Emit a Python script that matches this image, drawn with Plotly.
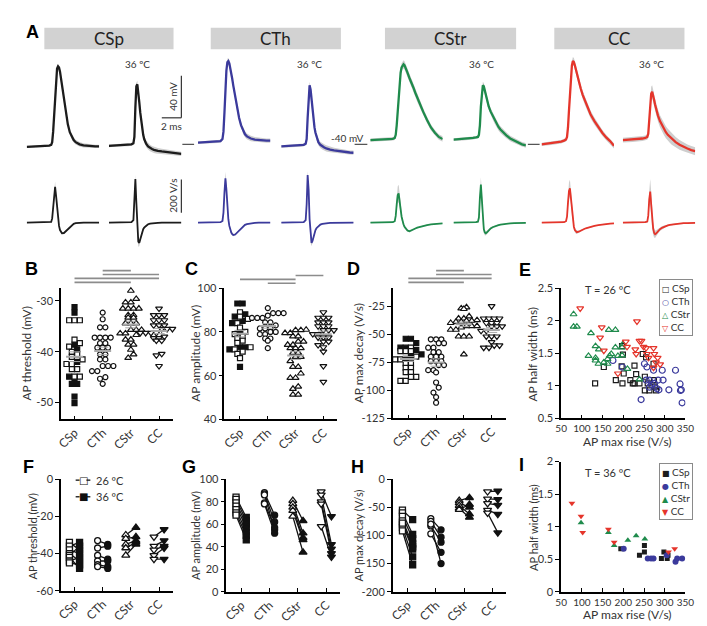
import statistics
import plotly.graph_objects as go

W, H = 707, 626
def fx(p): return p / W
def fy(p): return 1 - p / H

# ------------------------------------------------------------------ data
GROUPS = ["CSp", "CTh", "CStr", "CC"]
COLORS = {"CSp": "#1c1c1c", "CTh": "#3b3a9c", "CStr": "#1f8b4c", "CC": "#e5352b"}

# Panel A: mean AP waveforms (mV) and their derivatives (V/s), time in ms
T_MS = [0, 1, 2, 2.3, 2.5, 2.6, 2.7, 2.8, 2.9, 3.0, 3.1, 3.2, 3.3, 3.4, 3.5, 3.6, 3.8,
        4.0, 4.2, 4.4, 4.6, 4.8, 5.0, 5.4, 5.8, 6.2, 6.6, 7.0, 7.4]
V_CSP_26 = [-42.5, -42, -41.5, -41.2, -40.5, -38, -28, -10, 8, 24, 32, 34, 33, 29, 23, 16, 2,
            -11, -21, -28.5, -33, -36, -38, -40, -41, -41.5, -41.8, -42, -42]
V_CSP_36 = [-41.5, -41, -40.5, -40, -39, -33, -5, 15, 17, 10, 0, -10, -19, -26, -31, -35, -39.5,
            -42, -43.5, -44.5, -45.2, -45.8, -46.2, -46.8, -47.3, -47.8, -48.3, -48.7, -49]
V_CTH_26 = [-38.5, -38, -37.5, -37, -35, -28, -10, 12, 30, 38, 39, 37, 33, 28, 22, 16, 5,
            -6, -15, -22, -27, -30.5, -32.5, -34.5, -35.5, -36, -36.3, -36.5, -36.5]
V_CTH_36 = [-42, -41.5, -41, -40.5, -39.5, -35, -15, 8, 16, 12, 2, -8, -17, -24, -29, -33, -38,
            -40.5, -42, -43, -43.8, -44.5, -45, -45.8, -46.4, -47, -47.4, -47.8, -48]
V_CSTR_26 = [-36, -35.5, -35, -34.8, -34, -31, -22, -8, 6, 19, 28, 33, 35.5, 36, 35, 33, 28,
             23, 19, 14, 9, 4, -1, -9, -17, -24, -29, -33, -35]
V_CSTR_36 = [-35.5, -35, -34, -33.5, -33, -31, -22, -4, 10, 16, 15, 11, 7, 3, -1, -4, -9,
             -13, -17, -20.5, -23.5, -26, -28, -31.5, -34.5, -36.5, -38.5, -40, -41]
V_CC_26 = [-40, -39, -37.5, -36.5, -35.5, -33, -24, -8, 10, 26, 35, 39, 38, 35, 31, 27, 20,
           13, 7, 2, -3, -7.5, -11.5, -18, -24, -29, -33.5, -37, -41.5]
V_CC_36 = [-36, -35.5, -34.5, -34, -33, -30, -19, -3, 8, 10, 7, 2, -2.5, -6.5, -10, -13, -18,
           -22, -25.5, -28.5, -31, -33, -35, -38, -40.5, -42.5, -44, -45.5, -46.5]

D_CSP_26 = [0, 0, 0.5, 1, 4, 25, 100, 190, 215, 160, 80, 20, -20, -45, -58, -64, -63,
            -52, -38, -25, -15, -8, -4, -1, 0, 0, 0, 0, 0]
D_CSP_36 = [0, 0, 0.5, 2, 15, 150, 262, 120, -40, -115, -122, -100, -75, -55, -40, -30, -17,
            -10, -6, -4, -3, -2, -1.5, -1, -0.5, -0.5, 0, 0, 0]
D_CTH_26 = [0, 0, 0.5, 2, 10, 60, 180, 265, 200, 90, 20, -20, -45, -60, -70, -75, -72,
            -60, -45, -32, -22, -14, -9, -4, -2, -1, 0, 0, 0]
D_CTH_36 = [0, 0, 0.5, 2, 15, 110, 285, 200, 20, -90, -122, -110, -85, -62, -45, -34, -20,
            -12, -8, -5, -4, -3, -2, -1.5, -1, -0.5, 0, 0, 0]
D_CSTR_26 = [0, 0, 1, 2, 8, 40, 110, 165, 175, 140, 80, 35, 5, -12, -25, -35, -48,
             -52, -48, -42, -36, -31, -27, -20, -15, -11, -8, -6, -5]
D_CSTR_36 = [0, 0, 1, 2, 5, 30, 150, 228, 140, 20, -40, -60, -65, -60, -52, -45, -35,
             -28, -22, -18, -15, -12, -10, -7, -5, -4, -3, -2, -2]
D_CC_26 = [0, 0.5, 1, 2, 8, 35, 120, 190, 205, 150, 70, 10, -25, -45, -55, -58, -55,
           -48, -42, -37, -33, -29, -26, -20, -15, -11, -8, -6, -5]
D_CC_36 = [0, 0, 1, 2, 6, 40, 140, 186, 110, 20, -35, -62, -70, -66, -58, -50, -40,
           -32, -26, -21, -17, -14, -12, -8, -6, -4, -3, -2, -2]

SEM_V = [1.2, 1.2, 1.3, 1.3, 1.4, 2.0, 3.0, 3.5, 3.5, 3.2, 3.0, 3.0, 3.0, 3.0, 3.0, 3.0, 3.0,
         3.0, 3.0, 3.0, 3.0, 2.9, 2.8, 2.6, 2.4, 2.2, 2.0, 2.0, 2.0]
SEM_DV = [2, 2, 2, 2, 3, 10, 25, 40, 40, 30, 20, 15, 12, 10, 8, 8, 6,
          5, 4, 3, 3, 2, 2, 2, 2, 2, 2, 2, 2]
SEM_SCALE = {"CSp26": 0.8, "CSp36": 1.0, "CTh26": 1.0, "CTh36": 1.0,
             "CStr26": 1.3, "CStr36": 1.1, "CC26": 1.3, "CC36": 1.9}

# Panel B: AP threshold (mV)
B_CSP_FILLED = [-31.2, -32.3, -38.6, -39.5, -42.0, -44.9, -45.5, -46.3, -46.3, -48.8, -50.1]
B_CSP_OPEN = [-33.8, -33.8, -33.8, -37.6, -38.3, -39.0, -40.0, -40.5, -41.0, -41.5, -42.4,
              -42.4, -43.4, -43.4, -44.9, -44.9]
B_CTH = [-32.3, -33.6, -35.2, -35.2, -37.2, -37.2, -37.2, -37.2, -38.3, -38.3, -39.2, -39.2,
         -39.2, -40.5, -40.5, -41.5, -41.5, -42.8, -42.8, -42.8, -43.8, -43.8, -45.0, -45.3, -46.3]
B_CSTR = [-28.0, -29.6, -30.3, -30.3, -31.5, -31.5, -31.5, -31.5, -32.8, -32.8, -33.3, -33.3,
          -34.4, -34.4, -34.4, -35.7, -35.7, -35.7, -36.4, -36.4, -36.7, -37.6, -37.6, -38.6,
          -38.6, -39.6, -40.5, -41.2]
B_CC = [-31.5, -32.8, -32.8, -32.8, -33.8, -33.8, -33.8, -34.8, -34.8, -34.8, -35.5, -35.5,
        -35.5, -35.5, -36.3, -36.3, -36.3, -36.3, -37.0, -37.3, -37.3, -37.8, -37.8, -40.4,
        -40.7, -42.8]
B_SIG = [(2, 3), (2, 4), (1, 4), (1, 3)]

# Panel C: AP amplitude (mV)
C_CSP_FILLED = [93, 93, 88, 87, 85, 84, 80, 73, 73, 72, 64]
C_CSP_OPEN = [89, 87, 86, 84, 82, 80, 79, 78, 77, 76, 75, 73, 72, 71, 70, 68]
C_CTH = [90.9, 88.6, 88.6, 88.6, 87.5, 86.4, 86.4, 86.4, 84.4, 84.4, 83, 81.6, 81.6, 81.6,
         80, 80, 79, 79, 77, 77, 76, 72.6]
C_CSTR = [81, 80.8, 80.8, 79.5, 79.5, 78, 78, 75.6, 75.6, 74.1, 74.1, 72.6, 72.6, 72.6,
          70.4, 70.4, 68.6, 68.6, 66.7, 64, 64, 61, 59, 59, 55, 54, 51.3, 51.3]
C_CC = [89, 86.5, 86.5, 86.5, 84.4, 84.4, 84.4, 82.6, 82.6, 82.6, 80.8, 80.8, 80.8, 79, 79,
        77.5, 77.5, 77.5, 75.6, 75.6, 74, 73, 71, 64.4, 57.2]
C_SIG = [(3, 4), (1, 3), (2, 3)]

# Panel D: AP max decay (V/s)
D_CSP_FILLED = [-54, -54, -57.8, -62, -62, -64, -68, -70, -72]
D_CSP_OPEN = [-62, -65, -65, -65, -70, -72.4, -72.4, -76, -76, -80, -80, -83.7, -83.7,
              -88, -88, -91.6, -91.6]
D_CTH = [-54.5, -54.5, -54.5, -58, -58, -62, -62, -66, -66, -70, -70, -70, -74, -74, -74,
         -77.5, -77.5, -82, -82, -84, -93, -97.5, -102, -106, -111]
D_CSTR = [-26, -27, -27.5, -34, -36, -36, -37.5, -38, -38, -39, -39, -40, -42.7, -42.7,
          -42.7, -44, -46, -46, -52, -52, -52, -68]
D_CC = [-25, -36, -36, -36, -36, -40, -40, -40, -43, -43, -43, -47, -47, -52, -52, -52,
        -57, -60, -60, -62, -62]
D_SIG = [(2, 3), (2, 4), (1, 4), (1, 3)]

# Panel E: 26 degC, half width (ms) vs max rise (V/s)
E_CSP_X = [132, 153, 182, 198, 197, 199, 201, 196, 217, 223, 227, 231, 227, 247, 255, 239,
           252, 252, 259, 274, 276, 279, 273, 263]
E_CSP_Y = [1.04, 1.29, 1.09, 1.04, 1.61, 1.48, 1.19, 1.30, 1.09, 1.04, 1.04, 1.18, 1.31, 1.49,
           1.44, 1.04, 1.14, 0.93, 1.04, 1.09, 0.99, 0.93, 1.34, 0.93]
E_CTH_X = [175, 198, 251, 257, 273, 294, 326, 255, 263, 275, 284, 296, 263, 281, 286, 310,
           337, 340, 243, 342, 338, 268]
E_CTH_Y = [1.39, 1.29, 1.34, 1.29, 1.24, 1.24, 1.24, 1.09, 1.09, 1.04, 1.09, 1.09, 0.98, 0.96,
           0.94, 0.94, 1.03, 0.94, 0.79, 0.74, 0.93, 1.02]
E_CSTR_X = [80, 80, 88, 122, 165, 181, 133, 141, 116, 133, 133, 140, 153, 162, 167, 171, 162,
            181, 187, 197, 197, 199, 210, 239]
E_CSTR_Y = [2.10, 1.91, 1.91, 1.81, 1.86, 1.86, 1.61, 1.56, 1.46, 1.43, 1.39, 1.34, 1.36, 1.41,
            1.46, 1.49, 1.34, 1.59, 1.46, 1.59, 1.47, 1.64, 1.26, 1.10]
E_CC_X = [96, 148, 144, 153, 233, 187, 206, 209, 231, 229, 239, 244, 249, 255, 257, 261, 273,
          275, 279, 283, 289, 273]
E_CC_Y = [2.19, 1.90, 1.74, 1.54, 1.99, 1.19, 1.68, 1.60, 1.49, 1.56, 1.69, 1.69, 1.60, 1.58,
          1.49, 1.43, 1.58, 1.49, 1.36, 1.43, 1.33, 1.28]

# Panels F-H: paired 26 degC vs 36 degC
F_CSP_26 = [-34, -36, -38, -40, -41, -42, -44, -45]
F_CSP_36 = [-38, -34, -40, -44, -36, -48, -42, -46]
F_CTH_26 = [-33, -37, -41, -44, -46, -47]
F_CTH_36 = [-35, -36, -43, -44, -47, -48]
F_CSTR_26 = [-30, -32, -35, -37, -41]
F_CSTR_36 = [-26, -31, -33, -34, -35]
F_CC_26 = [-31, -36, -38, -41, -43]
F_CC_36 = [-27, -33, -36, -37, -43]

G_CSP_26 = [84, 82, 79, 76, 73, 70, 68]
G_CSP_36 = [66, 63, 60, 57, 53, 50, 46]
G_CTH_26 = [88, 87, 86, 79, 78]
G_CTH_36 = [68, 62, 55, 57, 52]
G_CSTR_26 = [81, 78, 75, 72, 67]
G_CSTR_36 = [63, 52, 48, 46, 35]
G_CC_26 = [89, 86, 80, 78, 58]
G_CC_36 = [67, 42, 38, 34, 31]

H_CSP_26 = [-55, -60, -66, -74, -80, -86, -92, -78]
H_CSP_36 = [-72, -98, -106, -115, -124, -138, -152, -120]
H_CTH_26 = [-70, -75, -83, -97, -80]
H_CTH_36 = [-90, -103, -112, -130, -150]
H_CSTR_26 = [-38, -42, -47, -52, -54]
H_CSTR_36 = [-33, -50, -62, -68, -45]
H_CC_26 = [-22, -35, -43, -55, -60]
H_CC_36 = [-21, -36, -46, -62, -95]

# Panel I: 36 degC
I_CSP_X = [194, 239, 251, 251, 292, 298, 306, 308]
I_CSP_Y = [0.66, 0.56, 0.61, 0.71, 0.51, 0.61, 0.51, 0.56]
I_CTH_X = [201, 259, 267, 273, 305, 326, 330, 342]
I_CTH_Y = [0.66, 0.51, 0.51, 0.51, 0.56, 0.46, 0.51, 0.51]
I_CSTR_X = [98, 164, 178, 211, 231, 252]
I_CSTR_Y = [1.06, 0.91, 0.71, 0.79, 0.86, 0.81]
I_CC_X = [76, 98, 102, 164, 178, 309, 324]
I_CC_Y = [1.36, 1.16, 0.91, 0.96, 0.76, 0.61, 0.66]

# ------------------------------------------------------------------ figure
FONT = "Lato, Roboto, sans-serif"
TXT = "#333333"
fig = go.Figure()
layout = dict(width=W, height=H, margin=dict(l=0, r=0, t=0, b=0),
              paper_bgcolor="white", plot_bgcolor="rgba(0,0,0,0)",
              showlegend=False, hovermode=False,
              font=dict(family=FONT, size=11, color=TXT))
shapes, annos = [], []
n_ax = [0]


def new_axes(xpx, ypx, xr, yr, xo=None, yo=None):
    n_ax[0] += 1
    s = "" if n_ax[0] == 1 else str(n_ax[0])
    xa = dict(domain=[fx(xpx[0]), fx(xpx[1])], range=xr, anchor="y" + s, visible=False,
              showgrid=False, zeroline=False)
    ya = dict(domain=[fy(ypx[1]), fy(ypx[0])], range=yr, anchor="x" + s, visible=False,
              showgrid=False, zeroline=False)
    if xo:
        xa.update(xo)
    if yo:
        ya.update(yo)
    layout["xaxis" + s] = xa
    layout["yaxis" + s] = ya
    return "x" + s, "y" + s


def text(x, y, t, size=11, angle=0, xanchor="center", yanchor="middle", color=TXT,
         family=FONT, **kw):
    annos.append(dict(x=fx(x), y=fy(y), xref="paper", yref="paper", text=t, showarrow=False,
                      textangle=angle, xanchor=xanchor, yanchor=yanchor,
                      font=dict(size=size, color=color, family=family), **kw))


def pline(x0, y0, x1, y1, color="#333", width=1.2):
    shapes.append(dict(type="line", xref="paper", yref="paper", x0=fx(x0), y0=fy(y0),
                       x1=fx(x1), y1=fy(y1), line=dict(color=color, width=width)))


# ---- Panel A
A_SETS = [("CSp", V_CSP_26, V_CSP_36, D_CSP_26, D_CSP_36),
          ("CTh", V_CTH_26, V_CTH_36, D_CTH_26, D_CTH_36),
          ("CStr", V_CSTR_26, V_CSTR_36, D_CSTR_26, D_CSTR_36),
          ("CC", V_CC_26, V_CC_36, D_CC_26, D_CC_36)]
A_XPX = {"CSp": ((13, 87), (97, 171)), "CTh": ((188, 262), (273, 347)),
         "CStr": ((364, 438), (449, 523)), "CC": ((539, 613), (622, 696))}
A_BOX = {"CSp": (31, 163), "CTh": (201, 334), "CStr": (379, 513), "CC": (552, 685)}
V_RANGE = [-56.7, 45.6]
DV_RANGE = [-165, 335]
first_vy = None
for g, v26, v36, d26, d36 in A_SETS:
    for xpx, v, d, key in [(A_XPX[g][0], v26, d26, g + "26"), (A_XPX[g][1], v36, d36, g + "36")]:
        s = SEM_SCALE[key]
        for sig, sem, ypx, yr, lw in [(v, SEM_V, (40, 150), V_RANGE, 2.3),
                                      (d, SEM_DV, (155, 240), DV_RANGE, 1.8)]:
            xa, ya = new_axes(xpx, ypx, [0, 7.4], yr)
            if first_vy is None:
                first_vy = ya
            up = [a + s * e for a, e in zip(sig, sem)]
            lo = [a - s * e for a, e in zip(sig, sem)]
            fig.add_trace(go.Scatter(x=T_MS + T_MS[::-1], y=up + lo[::-1], fill="toself",
                                     fillcolor="#cecece", line=dict(width=0), mode="lines",
                                     xaxis=xa, yaxis=ya))
            fig.add_trace(go.Scatter(x=T_MS, y=sig, mode="lines",
                                     line=dict(color=COLORS[g], width=lw),
                                     xaxis=xa, yaxis=ya))
    bx = A_BOX[g]
    shapes.append(dict(type="rect", xref="paper", yref="paper", x0=fx(bx[0]), x1=fx(bx[1]),
                       y0=fy(35), y1=fy(13), fillcolor="#d2d2d2", line=dict(width=0),
                       layer="below"))
    text((bx[0] + bx[1]) / 2, 24, g, size=17, color="#222")
    c36 = (A_XPX[g][1][0] + A_XPX[g][1][1]) / 2
    text(c36 - 8, 50, "36 ºC", size=10)

# -40 mV reference marks (in voltage-axis units)
for x0, x1 in [(172, 184), (348, 361), (525, 537)]:
    shapes.append(dict(type="line", xref="paper", yref=first_vy, x0=fx(x0), x1=fx(x1),
                       y0=-40, y1=-40, line=dict(color="#555", width=1.3)))
text(359, 126, "-40 mV", size=10, xanchor="right")
# scale bars: 40 mV / 2 ms / 200 V/s
pline(171, 62, 171, 105)
pline(151, 105, 171, 105)
pline(171, 168, 171, 202)
text(163, 83, "40 mV", size=10, angle=-90)
text(161, 113, "2 ms", size=10)
text(163, 185, "200 V/s", size=10, angle=-90)

TICK = 11


# ---- helpers for the lower panels
def cat_axes(xpx, ypx, xr, yr, yticks, ylabels, tsize=TICK):
    xo = dict(visible=True, showline=True, linecolor="black", linewidth=1.5, ticks="inside",
              ticklen=4, tickwidth=1.2, tickcolor="black", tickmode="array",
              tickvals=[1, 2, 3, 4], ticktext=GROUPS, tickangle=-45,
              tickfont=dict(size=tsize + 1, color=TXT, family=FONT))
    yo = dict(visible=True, showline=True, linecolor="black", linewidth=1.5, ticks="outside",
              ticklen=4, tickwidth=1.2, tickcolor="black", tickmode="array",
              tickvals=yticks, ticktext=ylabels,
              tickfont=dict(size=tsize, color=TXT, family=FONT))
    return new_axes(xpx, ypx, xr, yr, xo, yo)


def swarm_offsets(vals, binsize, dx):
    bins = {}
    for i in sorted(range(len(vals)), key=lambda k: vals[k]):
        bins.setdefault(round(vals[i] / binsize), []).append(i)
    off = [0.0] * len(vals)
    for idx in bins.values():
        n = len(idx)
        for k, i in enumerate(idx):
            off[i] = (k - (n - 1) / 2) * dx
    return off


SYM = {"CSp": "square", "CTh": "circle", "CStr": "triangle-up", "CC": "triangle-down"}
MSIZE = {"CSp": 5, "CTh": 5, "CStr": 6, "CC": 6}


def swarm_panel(xa, ya, csp_f, csp_o, cth, cstr, cc, binsize, sig, sig_y):
    groups = [("CSp", csp_f + csp_o, len(csp_f)), ("CTh", cth, 0), ("CStr", cstr, len(cstr)),
              ("CC", cc, 0)]
    for gi, (g, vals, nfill) in enumerate(groups, start=1):
        off = swarm_offsets(vals, binsize, 0.19)
        xs = [gi + o for o in off]
        if g == "CSp":
            parts = [(xs[:nfill], vals[:nfill], "#111"), (xs[nfill:], vals[nfill:], "white")]
        else:
            parts = [(xs, vals, "white")]
        for px, py, fill in parts:
            fig.add_trace(go.Scatter(x=px, y=py, mode="markers", xaxis=xa, yaxis=ya,
                                     cliponaxis=False,
                                     marker=dict(symbol=SYM[g], size=MSIZE[g], color=fill,
                                                 line=dict(color="#111", width=1.2))))
        m = statistics.mean(vals)
        se = statistics.stdev(vals) / len(vals) ** 0.5
        fig.add_trace(go.Scatter(x=[gi - 0.3, gi + 0.3], y=[m, m], mode="lines", xaxis=xa,
                                 yaxis=ya, line=dict(color="#a8a8a8", width=2)))
        fig.add_trace(go.Scatter(x=[gi - 0.2, gi + 0.2, None, gi - 0.2, gi + 0.2],
                                 y=[m + se, m + se, None, m - se, m - se], mode="lines",
                                 xaxis=xa, yaxis=ya, line=dict(color="#a8a8a8", width=1)))
    for (a, b), yy in zip(sig, sig_y):
        shapes.append(dict(type="line", xref=xa, yref="paper", x0=a, x1=b, y0=fy(yy),
                           y1=fy(yy), line=dict(color="#8c8c8c", width=1.6)))


def pair_panel(xa, ya, sets, offs=0.18):
    for gi, (g, a26, a36) in enumerate(sets, start=1):
        lx, ly = [], []
        for p, q in zip(a26, a36):
            lx += [gi - offs, gi + offs, None]
            ly += [p, q, None]
        fig.add_trace(go.Scatter(x=lx, y=ly, mode="lines", xaxis=xa, yaxis=ya,
                                 line=dict(color="#111", width=1.3)))
        fig.add_trace(go.Scatter(x=[gi - offs] * len(a26), y=a26, mode="markers", xaxis=xa,
                                 yaxis=ya, cliponaxis=False,
                                 marker=dict(symbol=SYM[g], size=MSIZE[g] + 1, color="white",
                                             line=dict(color="#111", width=1.3))))
        fig.add_trace(go.Scatter(x=[gi + offs] * len(a36), y=a36, mode="markers", xaxis=xa,
                                 yaxis=ya, cliponaxis=False,
                                 marker=dict(symbol=SYM[g], size=MSIZE[g] + 1, color="#111",
                                             line=dict(color="#111", width=1.3))))


def scatter_axes(xpx, ypx, yr, yticks, ylabels):
    xo = dict(visible=True, showline=True, linecolor="black", linewidth=1.5, ticks="inside",
              ticklen=4, tickwidth=1.2, tickcolor="black", tickmode="array", tickangle=0,
              tickvals=[50, 100, 150, 200, 250, 300, 350],
              ticktext=["50", "100", "150", "200", "250", "300", "350"],
              tickfont=dict(size=10, color=TXT, family=FONT))
    yo = dict(visible=True, showline=True, linecolor="black", linewidth=1.5, ticks="outside",
              ticklen=4, tickwidth=1.2, tickcolor="black", tickmode="array",
              tickvals=yticks, ticktext=ylabels, tickfont=dict(size=11, color=TXT, family=FONT))
    return new_axes(xpx, ypx, [50, 350], yr, xo, yo)


# ---- Panel B
xa, ya = cat_axes((48, 162), (279, 413), [0.52, 4.48], [-53.3, -27.5], [-50, -40, -30],
                  ["-50", "-40", "-30"])
swarm_panel(xa, ya, B_CSP_FILLED, B_CSP_OPEN, B_CTH, B_CSTR, B_CC, 1.2, B_SIG,
            [261, 265, 269, 273])
# ---- Panel C
xa, ya = cat_axes((215, 330), (279, 413), [0.44, 4.49], [40, 100], [40, 60, 80, 100],
                  ["40", "60", "80", "100"])
swarm_panel(xa, ya, C_CSP_FILLED, C_CSP_OPEN, C_CTH, C_CSTR, C_CC, 2.5, C_SIG,
            [266, 270, 274])
# ---- Panel D
xa, ya = cat_axes((387, 503), (279, 412), [0.44, 4.53], [-125, -9],
                  [-125, -100, -75, -50, -25], ["-125", "-100", "-75", "-50", "-25"])
swarm_panel(xa, ya, D_CSP_FILLED, D_CSP_OPEN, D_CTH, D_CSTR, D_CC, 5, D_SIG,
            [261, 265, 269, 273])

# ---- Panel E
xa, ya = scatter_axes((559, 686), (279, 412), [0.5, 2.5], [0.5, 1, 1.5, 2, 2.5],
                      ["0.5", "1", "1.5", "2", "2.5"])
for g, X, Y in [("CSp", E_CSP_X, E_CSP_Y), ("CTh", E_CTH_X, E_CTH_Y),
                ("CStr", E_CSTR_X, E_CSTR_Y), ("CC", E_CC_X, E_CC_Y)]:
    fig.add_trace(go.Scatter(x=X, y=Y, mode="markers", xaxis=xa, yaxis=ya,
                             marker=dict(symbol=SYM[g] + "-open", size=6 if g != "CSp" else 5,
                                         color=COLORS[g], line=dict(width=1.2))))
text(607, 280, "T = 26 ºC", size=11)

# ---- Panel F
xa, ya = cat_axes((48, 162), (474, 588), [0.52, 4.48], [-60, 0], [-60, -40, -20, 0],
                  ["-60", "-40", "-20", "0"])
pair_panel(xa, ya, [("CSp", F_CSP_26, F_CSP_36), ("CTh", F_CTH_26, F_CTH_36),
                    ("CStr", F_CSTR_26, F_CSTR_36), ("CC", F_CC_26, F_CC_36)])
# ---- Panel G
xa, ya = cat_axes((217, 333), (474, 589), [0.48, 4.48], [0, 100], [0, 20, 40, 60, 80, 100],
                  ["0", "20", "40", "60", "80", "100"])
pair_panel(xa, ya, [("CSp", G_CSP_26, G_CSP_36), ("CTh", G_CTH_26, G_CTH_36),
                    ("CStr", G_CSTR_26, G_CSTR_36), ("CC", G_CC_26, G_CC_36)])
# ---- Panel H
xa, ya = cat_axes((387, 503), (474, 589), [0.48, 4.48], [-200, 0],
                  [-200, -150, -100, -50, 0], ["-200", "-150", "-100", "-50", "0"])
pair_panel(xa, ya, [("CSp", H_CSP_26, H_CSP_36), ("CTh", H_CTH_26, H_CTH_36),
                    ("CStr", H_CSTR_26, H_CSTR_36), ("CC", H_CC_26, H_CC_36)])

# ---- Panel I
xa, ya = scatter_axes((559, 686), (456, 589), [0, 2], [0, 0.5, 1, 1.5, 2],
                      ["0", "0.5", "1", "1.5", "2"])
for g, X, Y in [("CSp", I_CSP_X, I_CSP_Y), ("CTh", I_CTH_X, I_CTH_Y),
                ("CStr", I_CSTR_X, I_CSTR_Y), ("CC", I_CC_X, I_CC_Y)]:
    fig.add_trace(go.Scatter(x=X, y=Y, mode="markers", xaxis=xa, yaxis=ya,
                             marker=dict(symbol=SYM[g], size=6 if g != "CSp" else 5,
                                         color=COLORS[g], line=dict(width=0))))
text(607, 467, "T = 36 ºC", size=11)

# ---- legends (E, I, F)
def legend_box(x, y, glyphs):
    rows = []
    for g, gl in zip(GROUPS, glyphs):
        rows.append("<span style='color:%s;font-family:DejaVu Sans;font-size:8px'>%s</span> %s"
                    % (COLORS[g], gl, g))
    annos.append(dict(x=fx(x), y=fy(y), xref="paper", yref="paper", showarrow=False,
                      text="<br>".join(rows), align="left", xanchor="left", yanchor="top",
                      bgcolor="white", bordercolor="#8a8a8a", borderwidth=1, borderpad=2,
                      font=dict(size=10, color=TXT, family=FONT)))


legend_box(659, 270, ["□", "○", "△", "▽"])
legend_box(659, 457, ["■", "●", "▲", "▼"])
for yy, gl, lab in [(475, "□", "26 ºC"), (492, "■", "36 ºC")]:
    pline(63, yy, 67, yy, color="#111", width=1.3)
    pline(74, yy, 78, yy, color="#111", width=1.3)
    text(70.5, yy, gl, size=10, color="#111", family="DejaVu Sans")
    text(82, yy, lab, size=11, xanchor="left")

# ---- axis titles
for x, y, t, s in [(13, 346, "AP threshold (mV)", 12), (186, 346, "AP amplitude (mV)", 12),
                   (352, 346, "AP max decay (V/s)", 12), (530, 346, "AP half width (ms)", 12),
                   (19, 532, "AP threshold (mV)", 11), (186, 532, "AP amplitude (mV)", 11),
                   (352, 532, "AP max decay (V/s)", 11), (530, 523, "AP half width (ms)", 11)]:
    text(x, y, t, size=s, angle=-90)
text(627, 436, "AP max rise (V/s)", size=12)
text(627, 612, "AP max rise (V/s)", size=12)

# ---- panel letters
for x, y, t in [(19, 17, "A"), (18, 259, "B"), (181, 259, "C"), (347, 259, "D"),
                (522, 260, "E"), (15, 462, "F"), (179, 462, "G"), (351, 462, "H"),
                (518, 460, "I")]:
    text(x, y, "<b>%s</b>" % t, size=18, color="black", family="Liberation Sans, Arial")

layout["shapes"] = shapes
layout["annotations"] = annos
fig.update_layout(layout)
fig.update_traces(showlegend=False, hoverinfo="skip")
fig.write_html("out.html")
